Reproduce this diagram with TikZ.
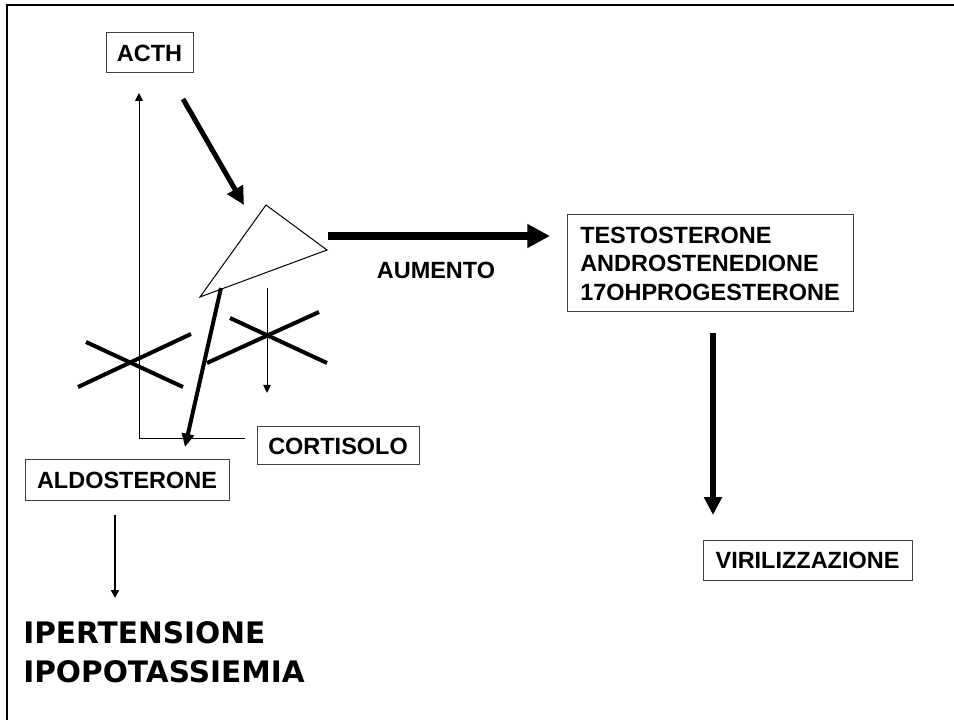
\documentclass[tikz,border=0pt]{standalone}
\usepackage{fontspec}
\setmainfont{Liberation Sans}
\newfontfamily\bigfont{DejaVu Sans}
\usetikzlibrary{arrows.meta}
\begin{document}
\begin{tikzpicture}[x=0.75pt,y=-0.75pt,
  box/.style={draw=black!75, line width=0.75pt, inner sep=0pt,
    font=\bfseries\fontsize{17.6}{21.4}\selectfont},
  lbl/.style={inner sep=0pt, font=\bfseries\fontsize{17.6}{21.4}\selectfont},
  thinline/.style={line width=0.75pt},
  crossline/.style={line width=3pt},
]
\useasboundingbox (0,0) rectangle (954,720);
\fill[white] (0,0) rectangle (954,720);
% frame
\draw[line width=2pt] (7,720) -- (7,5) -- (954,5);

% nodes
\node[box, minimum width=65.25pt, minimum height=30pt] (acth) at (149.5,53) {ACTH};
\node[box, minimum width=121.5pt, minimum height=28.5pt] (cort) at (338,446) {CORTISOLO};
\node[box, minimum width=153pt, minimum height=30pt] (aldo) at (127,480) {ALDOSTERONE};
\node[box, minimum width=214.5pt, minimum height=72.75pt, align=left] (testo) at (710,263.5)
  {TESTOSTERONE\\ANDROSTENEDIONE\\17OHPROGESTERONE};
\node[box, minimum width=156.75pt, minimum height=30pt] (viri) at (807.5,560) {VIRILIZZAZIONE};
\node[lbl] (aumento) at (436,270) {AUMENTO};
\node[inner sep=0pt, anchor=north west, align=left,
  font=\bigfont\bfseries\fontsize{22.2}{29.25}\selectfont] (iper) at (23,621)
  {IPERTENSIONE\\IPOPOTASSIEMIA};

% triangle (adrenal)
\coordinate (tA) at (266,205);
\coordinate (tB) at (327,250);
\coordinate (tC) at (200,297);
\draw[thinline] (tA) -- (tB) -- (tC) -- cycle;

% connector end points
\coordinate (a1s) at (183,99);   \coordinate (a1e) at (244,205);
\coordinate (a2s) at (328,236);  \coordinate (a2e) at (550,236);
\coordinate (a3s) at (713,333);  \coordinate (a3e) at (713,515);
\coordinate (a4s) at (221,288);  \coordinate (a4e) at (185,447);
\coordinate (fbS) at (245,439);  \coordinate (fbC) at (139,439); \coordinate (fbE) at (139,93);
\coordinate (a6s) at (267,288);  \coordinate (a6e) at (267,393);
\coordinate (a7s) at (115,515);  \coordinate (a7e) at (115,598);

% thick arrows
\draw[line width=3.75pt, -{Triangle[length=13.5pt,width=13pt]}] (a1s) -- (a1e);
\draw[line width=6pt, -{Triangle[length=17pt,width=17pt]}] (a2s) -- (a2e);
\draw[line width=4.5pt, -{Triangle[length=13.5pt,width=13pt]}] (a3s) -- (a3e);
\draw[line width=3pt, -{Triangle[length=10pt,width=9pt]}] (a4s) -- (a4e);

% thin arrows
\draw[thinline, -{Triangle[length=6pt,width=6pt]}] (fbS) -- (fbC) -- (fbE);
\draw[thinline, -{Triangle[length=6pt,width=5.5pt]}] (a6s) -- (a6e);
\draw[line width=1.5pt, -{Triangle[length=6pt,width=6pt]}] (a7s) -- (a7e);

% crosses
\draw[crossline] (86,342) -- (183,387);
\draw[crossline] (78,387) -- (191,334);
\draw[crossline] (230,318) -- (327,363);
\draw[crossline] (207,363) -- (319,312);
\end{tikzpicture}
\end{document}
